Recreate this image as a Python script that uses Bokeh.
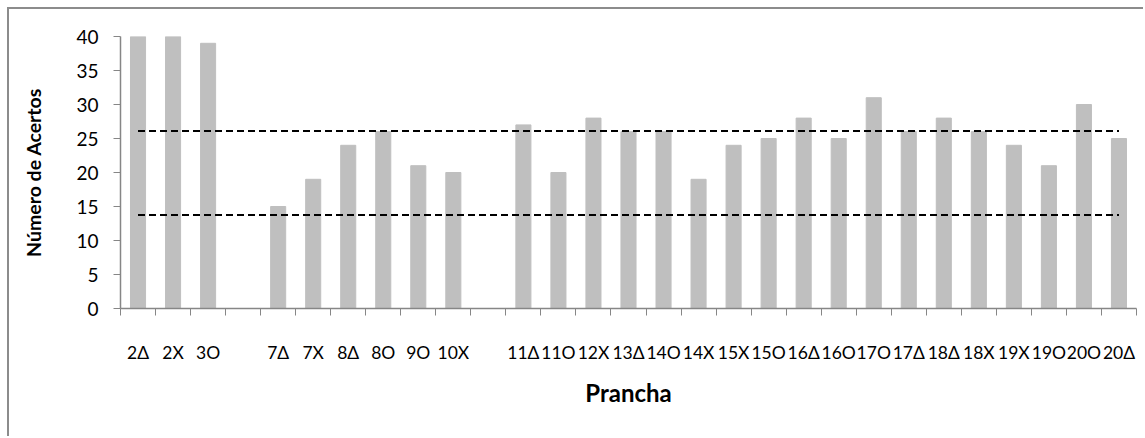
from bokeh.plotting import figure
from bokeh.models import Range1d, FixedTicker
from bokeh.embed import file_html
from bokeh.resources import INLINE

# ---- data ----
categories = ["2Δ", "2X", "3O", "", "7Δ", "7X", "8Δ", "8O", "9O", "10X", "",
              "11Δ", "11O", "12X", "13Δ", "14O", "14X", "15X", "15O", "16Δ",
              "16O", "17O", "17Δ", "18Δ", "18X", "19X", "19O", "20O", "20Δ"]
acertos = [40, 40, 39, None, 15, 19, 24, 26, 21, 20, None,
           27, 20, 28, 26, 26, 19, 24, 25, 28,
           25, 31, 26, 28, 26, 24, 21, 30, 25]
limite_superior = 26.1
limite_inferior = 13.75
y_ticks = [0, 5, 10, 15, 20, 25, 30, 35, 40]

n = len(categories)
centers = [i + 0.5 for i in range(n)]
bar_x = [centers[i] for i, v in enumerate(acertos) if v is not None]
bar_top = [v for v in acertos if v is not None]

FONT = "Lato"
AXIS_COLOR = "#868686"

p = figure(width=1136, height=429, output_backend="svg", toolbar_location=None,
           x_range=Range1d(0, n), y_range=Range1d(0, 40),
           min_border_left=111, min_border_right=9, min_border_top=27,
           min_border_bottom=130,
           styles={"position": "relative", "left": "9px", "top": "9px",
                   "box-shadow": "-2px -2px 0 0 #8c8c8c"})

p.vbar(x=bar_x, top=bar_top, bottom=0, width=0.43, color="#bfbfbf")

# dashed reference lines from first to last category
p.line([centers[0], centers[-1]], [limite_superior, limite_superior],
       line_color="black", line_width=2.2, line_dash="7 4")
p.line([centers[0], centers[-1]], [limite_inferior, limite_inferior],
       line_color="black", line_width=2.2, line_dash="7 4")

p.grid.visible = False
p.outline_line_color = None
p.background_fill_color = "white"
p.border_fill_color = "white"

# x axis
xa = p.xaxis[0]
xa.ticker = FixedTicker(ticks=centers, minor_ticks=list(range(n + 1)))
xa.major_label_overrides = {c: lab for c, lab in zip(centers, categories)}
xa.major_tick_out = 0
xa.major_tick_in = 0
xa.minor_tick_out = 7
xa.minor_tick_in = 0
xa.minor_tick_line_color = AXIS_COLOR
xa.axis_line_color = AXIS_COLOR
xa.axis_line_width = 1.5
xa.major_label_text_font = FONT
xa.major_label_text_font_size = "17.5px"
xa.major_label_text_color = "black"
xa.major_label_standoff = 26
xa.axis_label = "Prancha"
xa.axis_label_text_font = FONT
xa.axis_label_text_font_style = "bold"
xa.axis_label_text_font_size = "24px"
xa.axis_label_text_color = "black"
xa.axis_label_standoff = 12

# y axis
ya = p.yaxis[0]
ya.ticker = FixedTicker(ticks=y_ticks)
ya.major_tick_out = 7
ya.major_tick_in = 0
ya.minor_tick_out = 0
ya.minor_tick_in = 0
ya.major_tick_line_color = AXIS_COLOR
ya.axis_line_color = AXIS_COLOR
ya.axis_line_width = 1.5
ya.major_label_text_font = FONT
ya.major_label_text_font_size = "19px"
ya.major_label_text_color = "black"
ya.major_label_standoff = 15
ya.axis_label = "Número de Acertos"
ya.axis_label_text_font = FONT
ya.axis_label_text_font_style = "bold"
ya.axis_label_text_font_size = "19.5px"
ya.axis_label_text_color = "black"
ya.axis_label_standoff = 28

open("out.html", "w").write(file_html(p, INLINE))
